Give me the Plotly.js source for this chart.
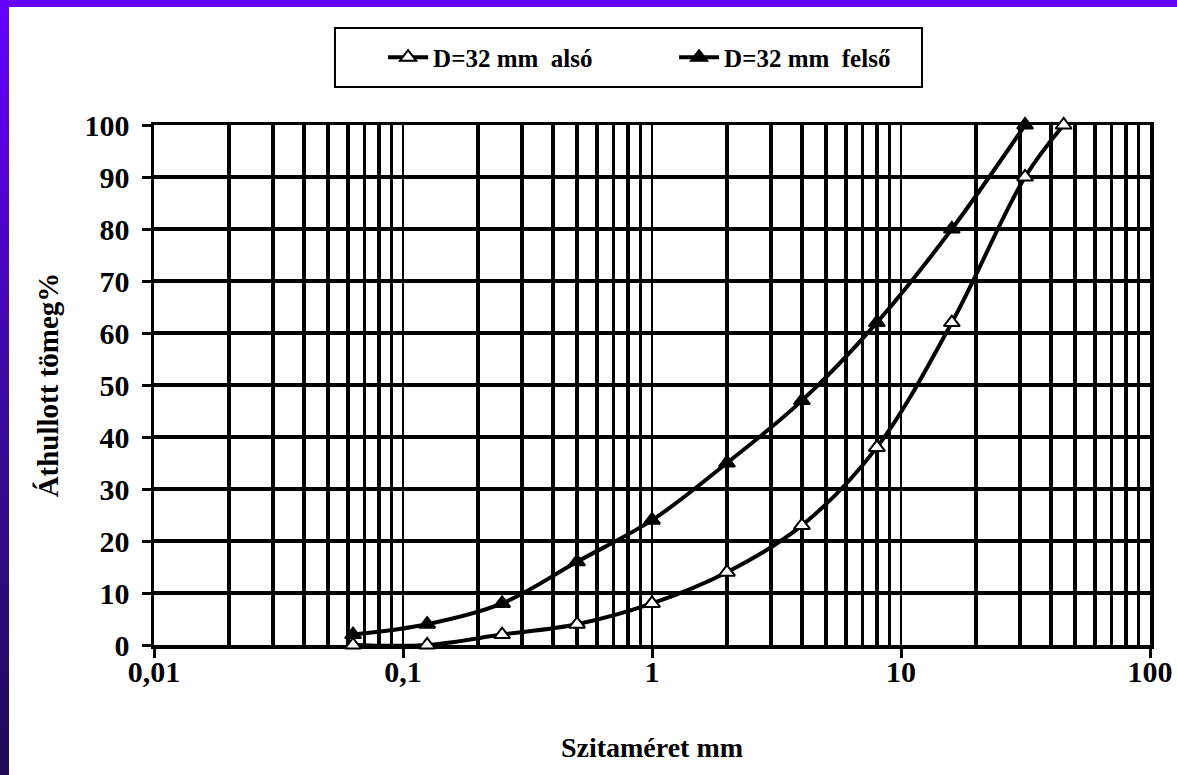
<!DOCTYPE html>
<html>
<head>
<meta charset="utf-8">
<script src="https://cdn.plot.ly/plotly-3.0.1.min.js"></script>
<style>
  html, body { margin: 0; padding: 0; width: 1177px; height: 775px; overflow: hidden; }
  body { background: linear-gradient(to bottom, #6600ff 0px, #5a00e6 120px, #3a0aa0 400px, #200a58 775px); position: relative; }
  #chart { position: absolute; left: 9px; top: 7px; width: 1168px; height: 768px; background: #fff; }
</style>
</head>
<body>
<div id="chart"></div>
<script>
// Data
const sieveAlso  = [0.063, 0.125, 0.25, 0.5, 1, 2, 4, 8, 16, 31.5, 45];
const passAlso   = [0, 0, 2, 4, 8, 14, 23, 38, 62, 90, 100];
const sieveFelso = [0.063, 0.125, 0.25, 0.5, 1, 2, 4, 8, 16, 31.5];
const passFelso  = [2, 4, 8, 16, 24, 35, 47, 62, 80, 100];

const xTickVals = [0.01, 0.1, 1, 10, 100];
const xTickText = ['0,01', '0,1', '1', '10', '100'];
const yTickVals = [0, 10, 20, 30, 40, 50, 60, 70, 80, 90, 100];

const seriesNames = ['D=32 mm  alsó', 'D=32 mm  felső'];
const axisTitles = { x: 'Szitaméret mm', y: 'Áthullott tömeg%' };

// minor gridlines 2..9 within each decade
const decades = [0.01, 0.1, 1, 10];
const mults = [2, 3, 4, 5, 6, 7, 8, 9];
const minorVals = [];
decades.forEach(d => mults.forEach(m => minorVals.push(+(d * m).toPrecision(3))));

const font = 'Liberation Serif, Times New Roman, serif';

const traces = [
  {
    x: sieveAlso, y: passAlso, name: seriesNames[0], type: 'scatter', mode: 'lines+markers',
    line: { color: '#000', width: 4, shape: 'spline', smoothing: 1 },
    marker: { symbol: 'triangle-up', size: 14, color: '#fff', line: { color: '#000', width: 2 } },
    cliponaxis: false
  },
  {
    x: sieveFelso, y: passFelso, name: seriesNames[1], type: 'scatter', mode: 'lines+markers',
    line: { color: '#000', width: 4, shape: 'spline', smoothing: 1 },
    marker: { symbol: 'triangle-up', size: 14, color: '#000', line: { color: '#000', width: 2 } },
    cliponaxis: false
  }
];

const layout = {
  width: 1168, height: 768,
  margin: { l: 145, r: 27, t: 118, b: 130 },
  paper_bgcolor: '#fff', plot_bgcolor: '#fff',
  separators: ',.',
  font: { family: font, color: '#000', size: 30, weight: 'bold' },
  showlegend: true,
  legend: {
    orientation: 'h', x: 0.23, xanchor: 'left', y: 1.13, yanchor: 'middle',
    bgcolor: 'rgba(0,0,0,0)', borderwidth: 0,
    font: { family: font, size: 25, color: '#000', weight: 'bold' },
    entrywidth: 236, itemwidth: 40
  },
  shapes: [
    { type: 'rect', xref: 'paper', yref: 'paper', x0: 0.1817, x1: 0.7711, y0: 1.0731, y1: 1.1865,
      line: { color: '#000', width: 2 }, fillcolor: 'rgba(0,0,0,0)', layer: 'below' }
  ],
  xaxis: {
    type: 'log', range: [-2, 2], layer: 'below traces',
    tickmode: 'array', tickvals: xTickVals, ticktext: xTickText,
    ticks: 'outside', ticklen: 9, tickwidth: 3, tickcolor: '#000',
    ticklabelstandoff: -12,
    showgrid: true, gridcolor: '#000', gridwidth: 1.5,
    minor: { tickmode: 'array', tickvals: minorVals, showgrid: true, gridcolor: '#000', gridwidth: 3.5, ticks: '' },
    showline: true, linecolor: '#000', linewidth: 3.5, mirror: true,
    zeroline: false,
    tickfont: { family: font, size: 30, weight: 'bold' },
    title: { text: axisTitles.x, font: { family: font, size: 28, weight: 'bold' }, standoff: 52 }
  },
  yaxis: {
    range: [0, 100], layer: 'below traces',
    tickmode: 'array', tickvals: yTickVals,
    ticks: 'outside', ticklen: 9, tickwidth: 3, tickcolor: '#000',
    ticklabelstandoff: 6,
    showgrid: true, gridcolor: '#000', gridwidth: 3.5,
    showline: true, linecolor: '#000', linewidth: 3.5, mirror: true,
    zeroline: false,
    tickfont: { family: font, size: 30, weight: 'bold' },
    title: { text: axisTitles.y, font: { family: font, size: 29, weight: 'bold' }, standoff: 18 }
  }
};

Plotly.newPlot('chart', traces, layout, { displayModeBar: false, staticPlot: true });
</script>
</body>
</html>
